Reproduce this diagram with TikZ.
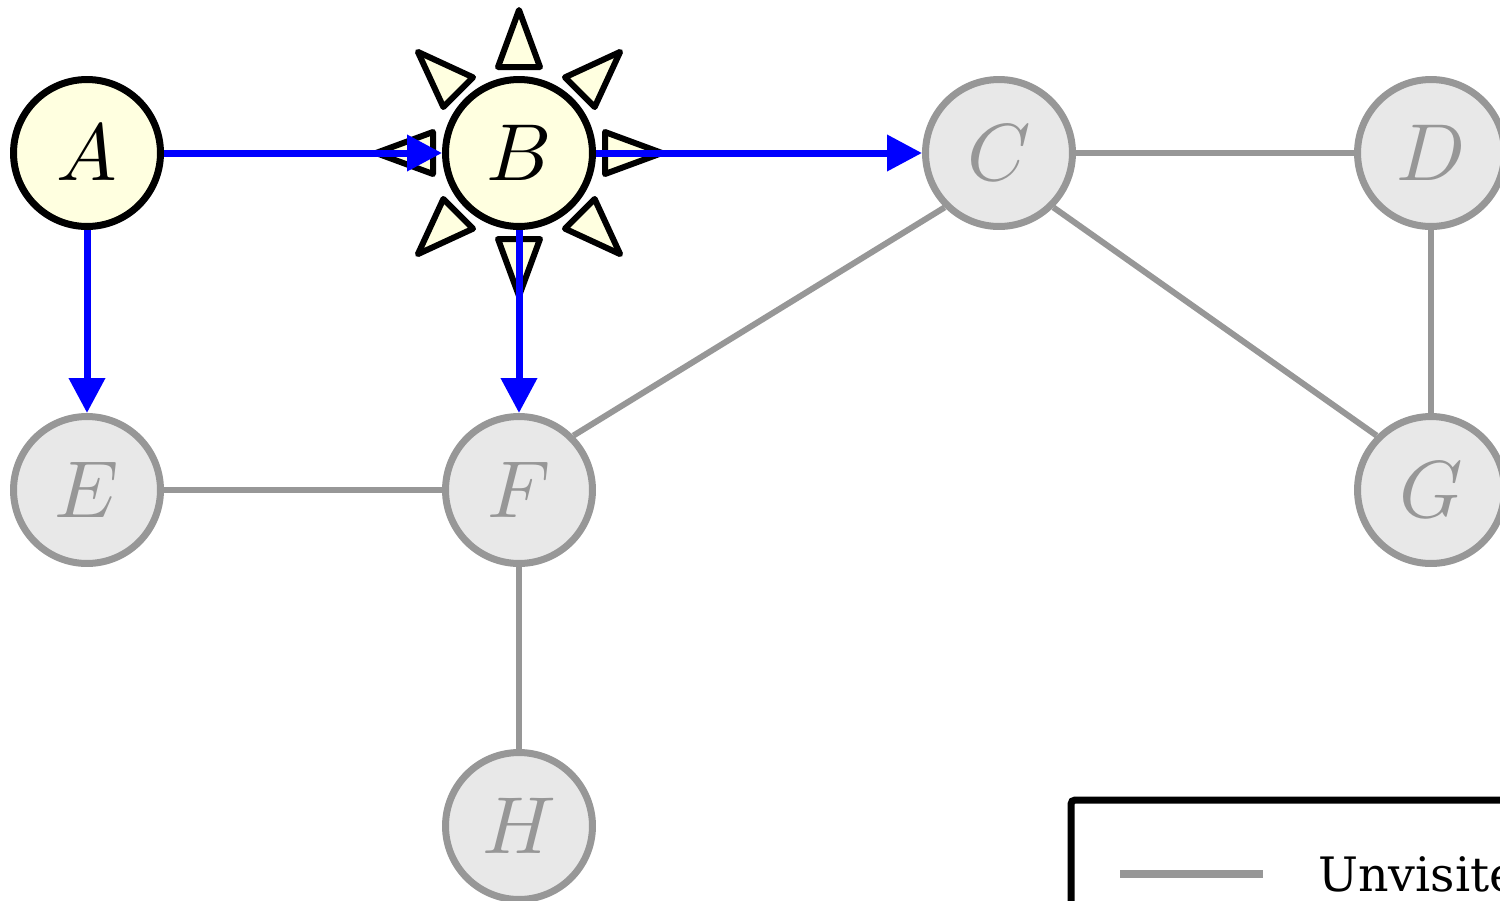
\documentclass[tikz,border=0pt]{standalone}
\usepackage{fontspec}
\newfontfamily\legendfont{DejaVu Serif}
\DeclareFontFamily{OML}{cmm}{\skewchar\font'177}
\DeclareFontShape{OML}{cmm}{m}{it}{<->cmmi10}{}
\usetikzlibrary{arrows.meta}
\definecolor{vfill}{HTML}{FFFFE0}
\definecolor{ugray}{HTML}{979797}
\definecolor{ufill}{HTML}{E8E8E8}
\begin{document}
\begin{tikzpicture}[x=0.02cm,y=-0.02cm,
 vnode/.style={circle, draw=black, fill=vfill, line width=0.14cm, minimum size=2.94cm, inner sep=0pt, font=\fontsize{46}{46}\selectfont},
 unode/.style={vnode, draw=ugray, fill=ufill, text=ugray},
 uedge/.style={draw=ugray, line width=0.12cm},
 vedge/.style={draw=blue, line width=0.14cm, -{Triangle[length=0.7cm,width=0.7cm]}},
 ray/.style={draw=black, fill=vfill, line width=0.12cm, line join=round}]
\useasboundingbox (0,0) rectangle (1500,900);
\clip (0,0) rectangle (1500,900);
% node positions
\coordinate (pB) at (519,153);
% rays around B
\foreach \t in {0,45,...,315}{
  \draw[ray, shift={(pB)}, rotate=\t] (86,-21) -- (143,0) -- (86,21) -- cycle;
}
\node[vnode] (A) at (87,153) {$A$};
\node[vnode] (B) at (519,153) {$B$};
\node[unode] (C) at (999,153) {$C$};
\node[unode] (D) at (1431,153) {$D$};
\node[unode] (E) at (87,490) {$E$};
\node[unode] (F) at (519,490) {$F$};
\node[unode] (G) at (1431,490) {$G$};
\node[unode] (H) at (519,826) {$H$};
% unvisited edges
\draw[uedge] (C) -- (D);
\draw[uedge] (C.225) -- (F.45);
\draw[uedge] (C.315) -- (G.135);
\draw[uedge] (D) -- (G);
\draw[uedge] (E) -- (F);
\draw[uedge] (F) -- (H);
% visited edges
\draw[vedge] (A) -- (B);
\draw[vedge] (B) -- (C);
\draw[vedge] (A) -- (E);
\draw[vedge] (B) -- (F);
% legend
\draw[line width=0.14cm, rounded corners=0.08cm] (1071,800) rectangle (1800,1100);
\coordinate (l1) at (1120,874);
\coordinate (l2) at (1263,874);
\draw[uedge, line width=0.15cm] (l1) -- (l2);
\node[anchor=base west, inner sep=0pt, font=\legendfont\fontsize{27}{27}\selectfont] (lt) at (1318,891) {Unvisited};
\end{tikzpicture}
\end{document}
